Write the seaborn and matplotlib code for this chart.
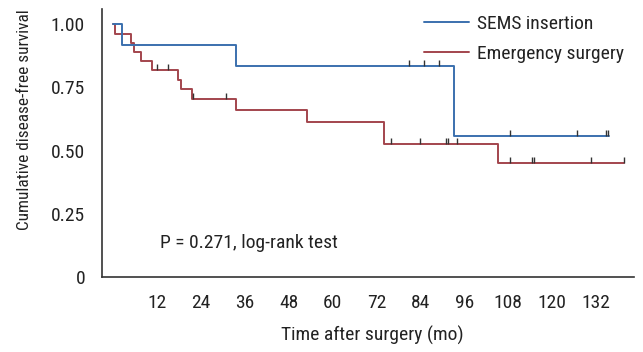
import numpy as np
import pandas as pd
import matplotlib
matplotlib.use("Agg")
import matplotlib.pyplot as plt
from matplotlib import font_manager
import seaborn as sns

# ---- data ----
groups = ["SEMS insertion", "Emergency surgery"]

sems_times = [0, 2.5, 33.7, 93.1]
sems_surv = [1.0, 0.917, 0.833, 0.556]
sems_end = 135.6
sems_censor = [81.0, 85.1, 89.1, 108.6, 126.8, 134.7, 135.3]

emerg_times = [0, 0.4, 4.8, 5.6, 7.6, 10.6, 17.7, 18.5, 21.7, 33.7, 52.9, 74.0, 105.1]
emerg_surv = [1.0, 0.963, 0.927, 0.892, 0.856, 0.819, 0.780, 0.743, 0.703, 0.660, 0.615, 0.526, 0.452]
emerg_end = 139.7
emerg_censor = [11.9, 14.9, 21.9, 31.0, 76.0, 84.0, 91.0, 91.6, 94.0, 108.6, 114.4, 115.0, 130.6, 139.7]

x_ticks = [12, 24, 36, 48, 60, 72, 84, 96, 108, 120, 132]
y_ticks = [0, 0.25, 0.5, 0.75, 1.0]
y_ticklabels = ["0", "0.25", "0.50", "0.75", "1.00"]

colors = {"SEMS insertion": "#3b70ae", "Emergency surgery": "#a3454d"}

# ---- build tables ----
def curve(name, times, surv, end):
    t = list(times) + [end]
    s = list(surv) + [surv[-1]]
    return pd.DataFrame({"time": t, "surv": s, "group": name})

def censor(name, times, surv, ct):
    idx = np.searchsorted(np.array(times), np.array(ct), side="right") - 1
    return pd.DataFrame({"time": ct, "surv": np.array(surv)[idx], "group": name})

curves = pd.concat([curve(groups[1], emerg_times, emerg_surv, emerg_end),
                    curve(groups[0], sems_times, sems_surv, sems_end)], ignore_index=True)
cens = pd.concat([censor(groups[0], sems_times, sems_surv, sems_censor),
                  censor(groups[1], emerg_times, emerg_surv, emerg_censor)], ignore_index=True)

# ---- font choice: a condensed sans if one exists ----
names = {f.name for f in font_manager.fontManager.ttflist}
condensed = [n for n in ["Roboto Condensed", "Liberation Sans Narrow", "Arial Narrow",
                         "Noto Sans Condensed", "Open Sans Condensed", "DejaVu Sans Condensed"]
             if n in names]
if condensed:
    family = [condensed[0], "DejaVu Sans"]
    fs = 14 if condensed[0] != "DejaVu Sans Condensed" else 12.5
else:
    family = ["Roboto", "DejaVu Sans"]
    fs = 12.7

sns.set_theme(style="white")
plt.rcParams["font.family"] = family
plt.rcParams["text.color"] = "#222222"
plt.rcParams["axes.labelcolor"] = "#222222"
plt.rcParams["xtick.color"] = "#222222"
plt.rcParams["ytick.color"] = "#222222"

fig = plt.figure(figsize=(6.43, 3.52), dpi=100)
ax = fig.add_axes([101.7 / 643, 1 - 277 / 352, (634 - 101.7) / 643, (277 - 9.3) / 352])

sns.lineplot(data=curves, x="time", y="surv", hue="group",
             hue_order=[groups[1], groups[0]], palette=colors,
             estimator=None, sort=False, drawstyle="steps-post",
             linewidth=1.4, legend=False, ax=ax)

for g in groups:
    sub = cens[cens["group"] == g]
    sns.lineplot(data=sub, x="time", y="surv", estimator=None, sort=False,
                 linestyle="", marker=2, markersize=4, markeredgewidth=1.0,
                 color="#333333", markeredgecolor="#333333", legend=False, ax=ax)

ax.set_xlim(-3.1, 142.4)
ax.set_ylim(0, 1.059)
ax.set_xticks(x_ticks)
ax.set_xticklabels([str(v) for v in x_ticks])
ax.set_yticks(y_ticks)
ax.set_yticklabels(y_ticklabels)
ax.tick_params(axis="both", direction="in", length=6, width=1.1, labelsize=fs)
ax.tick_params(axis="x", pad=12)
ax.tick_params(axis="y", pad=12)

for side in ["top", "right"]:
    ax.spines[side].set_visible(False)
for side in ["left", "bottom"]:
    ax.spines[side].set_color("#333333")
    ax.spines[side].set_linewidth(1.2)

ax.set_xlabel("Time after surgery (mo)", fontsize=fs)
ax.set_ylabel("Cumulative disease-free survival", fontsize=fs * 0.89)
ax.xaxis.set_label_coords((372 - 101.7) / (634 - 101.7), -(335 - 277) / (277 - 9.3))
ax.xaxis.label.set_va("center")
ax.yaxis.set_label_coords((25 - 101.7) / (634 - 101.7), (277 - 120) / (277 - 9.3))
ax.yaxis.label.set_va("center")

ax.text(12.8, 0.135, "P = 0.271, log-rank test", fontsize=fs, ha="left", va="center")

blue = ax.lines[1]
red = ax.lines[0]
ax.legend([blue, red], groups, loc="upper left", frameon=False,
          bbox_to_anchor=(424 / 643, 1 - 15 / 352), bbox_transform=fig.transFigure,
          borderpad=0, borderaxespad=0, handlelength=2.3, handletextpad=0.45,
          labelspacing=0.6, fontsize=fs)

fig.savefig("out.png", dpi=100)
